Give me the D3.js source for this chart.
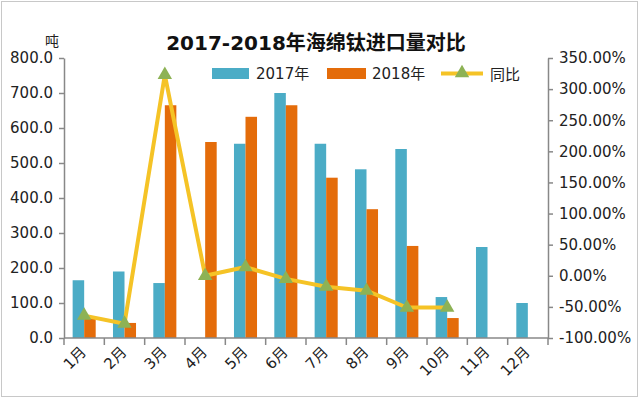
<!DOCTYPE html>
<html><head><meta charset="utf-8">
<script src="https://cdnjs.cloudflare.com/ajax/libs/d3/7.8.5/d3.min.js"></script>
<style>body{margin:0;background:#fff}svg{display:block}</style>
</head><body>
<script>
const categories = ["1月","2月","3月","4月","5月","6月","7月","8月","9月","10月","11月","12月"];
const series2017 = [165,190,157,null,555,700,555,482,540,117,260,100];
const series2018 = [60,43,665,560,632,665,458,368,263,57,null,null];
const yoy = [-64,-77,323,0,14,-5,-17.5,-24,-51,-51,null,null];
const leftTicks = [0,100,200,300,400,500,600,700,800];
const rightTicks = [-100,-50,0,50,100,150,200,250,300,350];
const seriesNames = ["2017年","2018年","同比"];

(function(){
const W=640,H=401;
const font = "'DejaVu Sans','Noto Sans CJK SC',sans-serif";
const svg = d3.select("body").append("svg").attr("width",W).attr("height",H);
svg.append("rect").attr("x",1.5).attr("y",1.5).attr("width",W-4).attr("height",H-6)
  .attr("fill","#fff").attr("stroke","#c8c8c8");

const pL=64,pR=548,pT=58,pB=338;
const x = d3.scaleBand().domain(categories).range([pL,pR]);
const y = d3.scaleLinear().domain([0,800]).range([pB,pT]);
const y2 = d3.scaleLinear().domain([-100,350]).range([pB,pT]);
const barW = x.bandwidth()/3.5;
const blue="#4BACC6", orange="#E46C0A", lineC="#F5C326", markC="#8DB255", axisC="#888";

svg.append("g").selectAll("rect").data(categories.map((c,i)=>({c,v:series2017[i]})).filter(d=>d.v!=null))
  .join("rect").attr("x",d=>x(d.c)+x.bandwidth()/2-barW).attr("width",barW)
  .attr("y",d=>y(d.v)).attr("height",d=>pB-y(d.v)).attr("fill",blue);
svg.append("g").selectAll("rect").data(categories.map((c,i)=>({c,v:series2018[i]})).filter(d=>d.v!=null))
  .join("rect").attr("x",d=>x(d.c)+x.bandwidth()/2).attr("width",barW)
  .attr("y",d=>y(d.v)).attr("height",d=>pB-y(d.v)).attr("fill",orange);

const axStyle = g=>{g.selectAll("path,line").attr("stroke",axisC).attr("stroke-width",1.5);
  g.selectAll("text").attr("font-family",font).attr("font-size",15).attr("fill","#222");};
svg.append("g").attr("transform",`translate(${pL},0)`)
  .call(d3.axisLeft(y).tickValues(leftTicks).tickFormat(d3.format(".1f")).tickSize(5).tickSizeOuter(0).tickPadding(6))
  .call(axStyle);
svg.append("g").attr("transform",`translate(${pR},0)`)
  .call(d3.axisRight(y2).tickValues(rightTicks).tickFormat(d=>d.toFixed(2)+"%").tickSize(5).tickSizeOuter(0).tickPadding(6))
  .call(axStyle);
const xa = svg.append("g").attr("transform",`translate(0,${pB})`);
xa.append("line").attr("x1",pL).attr("x2",pR).attr("stroke",axisC).attr("stroke-width",1.5);
const bounds = categories.map(c=>x(c)).concat([pR]);
xa.selectAll("line.t").data(bounds).join("line").attr("class","t")
  .attr("x1",d=>d).attr("x2",d=>d).attr("y1",0).attr("y2",7).attr("stroke",axisC).attr("stroke-width",1.5);
xa.selectAll("text").data(categories).join("text")
  .attr("transform",d=>`translate(${x(d)+x.bandwidth()/2+3},${15}) rotate(-45)`)
  .attr("text-anchor","end").attr("font-family",font).attr("font-size",15).attr("fill","#222").text(d=>d);

const pts = categories.map((c,i)=>({c,v:yoy[i]})).filter(d=>d.v!=null);
svg.append("path").datum(pts).attr("fill","none").attr("stroke",lineC).attr("stroke-width",4)
  .attr("stroke-linejoin","round")
  .attr("d",d3.line().x(d=>x(d.c)+x.bandwidth()/2).y(d=>y2(d.v)));
const tri = d3.symbol().type(d3.symbolTriangle).size(90);
svg.append("g").selectAll("path").data(pts).join("path")
  .attr("transform",d=>`translate(${x(d.c)+x.bandwidth()/2},${y2(d.v)})`)
  .attr("d",tri).attr("fill",markC);

svg.append("text").attr("x",316).attr("y",50).attr("text-anchor","middle")
  .attr("font-family",font).attr("font-weight","bold").attr("font-size",20).attr("fill","#111")
  .text("2017-2018年海绵钛进口量对比");
svg.append("text").attr("x",45).attr("y",46).attr("font-family",font).attr("font-size",14).attr("fill","#222").text("吨");

const lg = svg.append("g").attr("font-family",font).attr("font-size",15).attr("fill","#222");
lg.append("rect").attr("x",212).attr("y",68).attr("width",37).attr("height",11).attr("fill",blue);
lg.append("text").attr("x",256).attr("y",79).text(seriesNames[0]);
lg.append("rect").attr("x",327).attr("y",68).attr("width",39).attr("height",11).attr("fill",orange);
lg.append("text").attr("x",372).attr("y",79).text(seriesNames[1]);
lg.append("line").attr("x1",441).attr("x2",483).attr("y1",73.5).attr("y2",73.5).attr("stroke",lineC).attr("stroke-width",4);
lg.append("path").attr("transform","translate(462,73)").attr("d",tri).attr("fill",markC);
lg.append("text").attr("x",490).attr("y",80).text(seriesNames[2]);
})();
</script>
</body></html>
